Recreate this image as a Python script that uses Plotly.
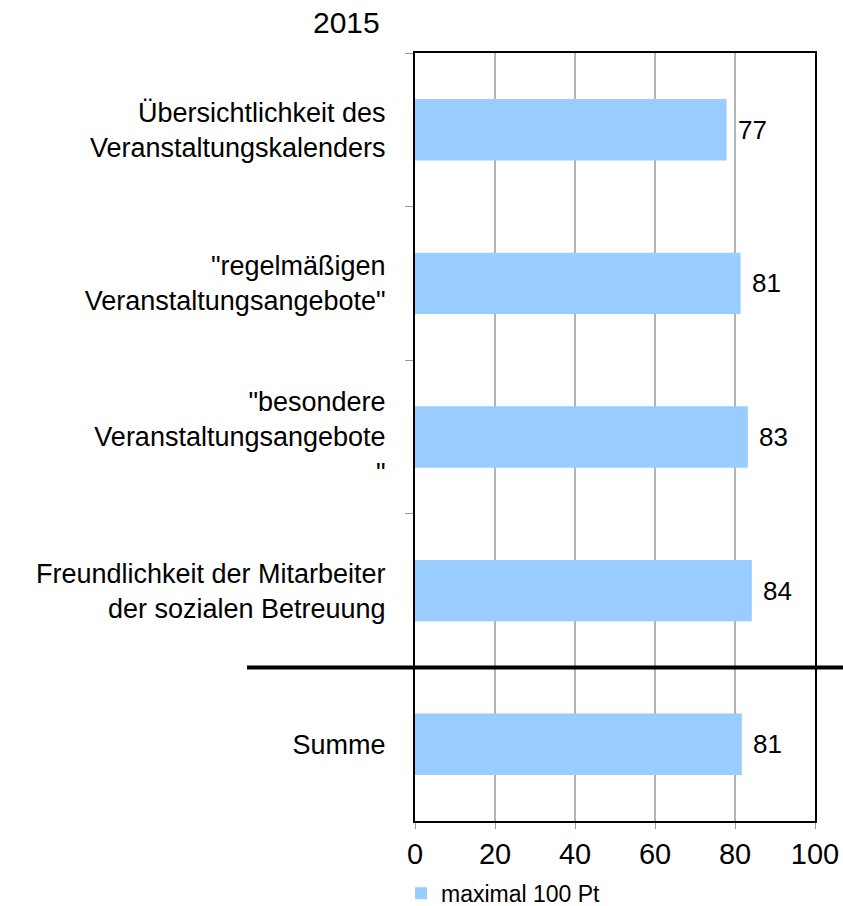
import plotly.graph_objects as go

categories = [
    "Übersichtlichkeit des<br>Veranstaltungskalenders",
    "\"regelmäßigen<br>Veranstaltungsangebote\"",
    "\"besondere<br>Veranstaltungsangebote<br>\"",
    "Freundlichkeit der Mitarbeiter<br>der sozialen Betreuung",
    "Summe",
]
values = [77.9, 81.4, 83.2, 84.2, 81.7]
value_labels = ["77", "81", "83", "84", "81"]
series_name = "maximal 100 Pt"
title_text = "2015"
x_ticks = [0, 20, 40, 60, 80, 100]

FONT = "Liberation Sans, Arial, sans-serif"

fig = go.Figure()
fig.add_trace(go.Bar(
    y=categories, x=values, orientation="h", width=0.4,
    marker=dict(color="#99CCFF", line=dict(width=0)),
    name=series_name, showlegend=True,
))

for c, v, t in zip(categories, values, value_labels):
    fig.add_annotation(x=v, y=c, text=t, showarrow=False, xanchor="left",
                       xshift=9, font=dict(size=26, color="black", family=FONT))

# separator line between detail items and the sum
fig.add_shape(type="line", xref="paper", yref="y", x0=-0.42, x1=1.07,
              y0=3.5, y1=3.5, line=dict(color="black", width=4))

fig.add_annotation(xref="paper", yref="paper", x=(382 - 415) / 400, y=1.0,
                   yshift=31, xanchor="right", yanchor="middle", showarrow=False,
                   text=title_text, font=dict(size=30, color="black", family=FONT))

fig.update_layout(
    width=843, height=906,
    margin=dict(l=415, r=28, t=53, b=85, autoexpand=False),
    plot_bgcolor="white", paper_bgcolor="white",
    font=dict(family=FONT, size=26, color="black"),
    bargap=0.6,
    legend=dict(orientation="h", x=-0.035, y=-0.094, xanchor="left", yanchor="middle",
                font=dict(size=23, color="black", family=FONT), itemwidth=30),
    showlegend=True,
)
fig.update_xaxes(range=[0, 100], tickvals=x_ticks, showgrid=True, gridcolor="#b3b3b3",
                 gridwidth=1.5, showline=True, linecolor="black", linewidth=2, mirror=True,
                 ticks="outside", ticklen=6, tickcolor="#999999", zeroline=False,
                 tickfont=dict(size=29, family=FONT))
fig.update_yaxes(autorange="reversed", categoryorder="array", categoryarray=categories,
                 showline=True, linecolor="black", linewidth=2, mirror=True,
                 ticks="outside", ticklen=8, tickcolor="#999999", tickson="boundaries",
                 ticklabelstandoff=22, showgrid=False,
                 tickfont=dict(size=27, family=FONT))

fig.write_html(
    "out.html",
    config={"displayModeBar": False},
    post_script="document.body.style.margin='0';document.body.style.overflow='hidden';",
)
